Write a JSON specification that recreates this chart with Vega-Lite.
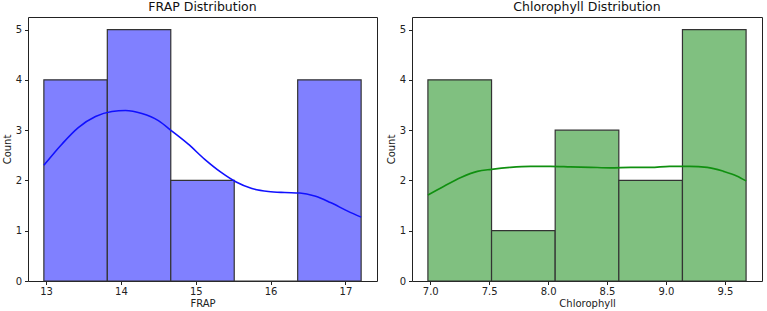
{
  "$schema": "https://vega.github.io/schema/vega-lite/v6.json",
  "background": "white",
  "padding": {"left": 1, "top": 0, "right": 4, "bottom": 0},
  "spacing": 7,
  "config": {
    "font": "DejaVu Sans",
    "view": {"stroke": "#222", "strokeWidth": 1},
    "title": {"font": "DejaVu Sans", "fontSize": 12.5, "fontWeight": "normal", "color": "#111", "anchor": "middle", "offset": 4},
    "axis": {
      "grid": false,
      "domain": false,
      "ticks": true,
      "tickColor": "#222",
      "tickSize": 3.5,
      "labelFont": "DejaVu Sans",
      "labelFontSize": 10,
      "labelColor": "#222",
      "titleFont": "DejaVu Sans",
      "titleFontSize": 10,
      "titleFontWeight": "normal",
      "titleColor": "#222"
    },
    "axisX": {"labelPadding": 2, "titlePadding": 2},
    "axisY": {"labelPadding": 3, "titlePadding": 3}
  },
  "datasets": {
    "frapBins": [
      {"lo": 12.97, "hi": 13.818, "count": 4},
      {"lo": 13.818, "hi": 14.666, "count": 5},
      {"lo": 14.666, "hi": 15.514, "count": 2},
      {"lo": 15.514, "hi": 16.362, "count": 0},
      {"lo": 16.362, "hi": 17.21, "count": 4}
    ],
    "chlBins": [
      {"lo": 6.98, "hi": 7.52, "count": 4},
      {"lo": 7.52, "hi": 8.06, "count": 1},
      {"lo": 8.06, "hi": 8.6, "count": 3},
      {"lo": 8.6, "hi": 9.14, "count": 2},
      {"lo": 9.14, "hi": 9.68, "count": 5}
    ],
    "frapKde": [
      {"x": 12.97, "y": 2.30}, {"x": 13.21, "y": 2.72}, {"x": 13.43, "y": 3.05},
      {"x": 13.66, "y": 3.27}, {"x": 13.88, "y": 3.37}, {"x": 14.06, "y": 3.39},
      {"x": 14.28, "y": 3.33}, {"x": 14.50, "y": 3.19}, {"x": 14.69, "y": 2.97},
      {"x": 14.90, "y": 2.72}, {"x": 15.12, "y": 2.42}, {"x": 15.34, "y": 2.16},
      {"x": 15.54, "y": 1.97}, {"x": 15.75, "y": 1.84}, {"x": 15.97, "y": 1.78},
      {"x": 16.19, "y": 1.76}, {"x": 16.39, "y": 1.75}, {"x": 16.59, "y": 1.69},
      {"x": 16.80, "y": 1.56}, {"x": 17.03, "y": 1.39}, {"x": 17.21, "y": 1.27}
    ],
    "chlKde": [
      {"x": 6.98, "y": 1.71}, {"x": 7.12, "y": 1.89}, {"x": 7.26, "y": 2.06},
      {"x": 7.40, "y": 2.18}, {"x": 7.52, "y": 2.22}, {"x": 7.68, "y": 2.26},
      {"x": 7.85, "y": 2.28}, {"x": 8.02, "y": 2.28}, {"x": 8.19, "y": 2.27},
      {"x": 8.36, "y": 2.26}, {"x": 8.53, "y": 2.25}, {"x": 8.70, "y": 2.26},
      {"x": 8.87, "y": 2.26}, {"x": 9.03, "y": 2.28}, {"x": 9.20, "y": 2.28},
      {"x": 9.35, "y": 2.26}, {"x": 9.49, "y": 2.18}, {"x": 9.60, "y": 2.09},
      {"x": 9.68, "y": 1.99}
    ]
  },
  "hconcat": [
    {
      "title": "FRAP Distribution",
      "width": 349,
      "height": 264,
      "layer": [
        {
          "data": {"name": "frapBins"},
          "mark": {"type": "rect", "fill": "#8080ff", "stroke": "#333", "strokeWidth": 1.2},
          "encoding": {
            "x": {"field": "lo", "type": "quantitative", "title": "FRAP",
                  "scale": {"domain": [12.758, 17.422], "nice": false, "zero": false},
                  "axis": {"values": [13, 14, 15, 16, 17], "format": "d"}},
            "x2": {"field": "hi"},
            "y": {"field": "count", "type": "quantitative", "title": "Count",
                  "scale": {"domain": [0, 5.25], "nice": false},
                  "axis": {"values": [0, 1, 2, 3, 4, 5]}},
            "y2": {"datum": 0}
          }
        },
        {
          "data": {"name": "frapKde"},
          "mark": {"type": "line", "color": "#1010ff", "strokeWidth": 1.6, "interpolate": "monotone"},
          "encoding": {
            "x": {"field": "x", "type": "quantitative", "title": "FRAP"},
            "y": {"field": "y", "type": "quantitative", "title": "Count"}
          }
        }
      ]
    },
    {
      "title": "Chlorophyll Distribution",
      "width": 350,
      "height": 264,
      "layer": [
        {
          "data": {"name": "chlBins"},
          "mark": {"type": "rect", "fill": "#80c080", "stroke": "#333", "strokeWidth": 1.2},
          "encoding": {
            "x": {"field": "lo", "type": "quantitative", "title": "Chlorophyll",
                  "scale": {"domain": [6.845, 9.815], "nice": false, "zero": false},
                  "axis": {"values": [7, 7.5, 8, 8.5, 9, 9.5], "format": ".1f"}},
            "x2": {"field": "hi"},
            "y": {"field": "count", "type": "quantitative", "title": "Count",
                  "scale": {"domain": [0, 5.25], "nice": false},
                  "axis": {"values": [0, 1, 2, 3, 4, 5]}},
            "y2": {"datum": 0}
          }
        },
        {
          "data": {"name": "chlKde"},
          "mark": {"type": "line", "color": "#109010", "strokeWidth": 1.6, "interpolate": "monotone"},
          "encoding": {
            "x": {"field": "x", "type": "quantitative", "title": "Chlorophyll"},
            "y": {"field": "y", "type": "quantitative", "title": "Count"}
          }
        }
      ]
    }
  ]
}
